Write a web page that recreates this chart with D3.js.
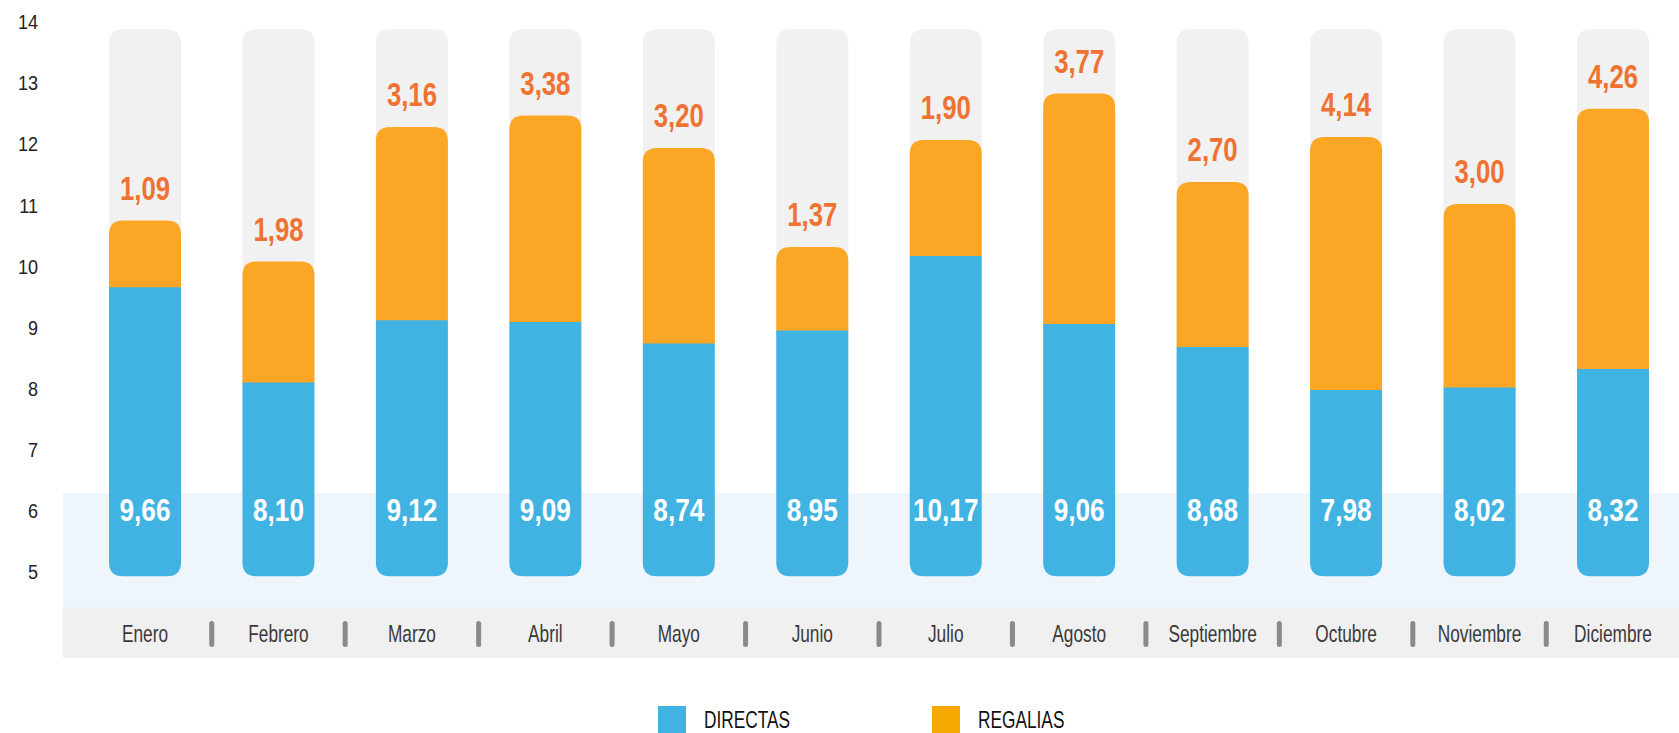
<!DOCTYPE html>
<html>
<head>
<meta charset="utf-8">
<script src="https://cdn.jsdelivr.net/npm/d3@7"></script>
<style>
  body { margin: 0; background: #fff; }
  svg { display: block; }
  text { font-family: "Liberation Sans", Arial, sans-serif; }
</style>
</head>
<body>
<svg id="chart"></svg>
<script>
const months = ['Enero', 'Febrero', 'Marzo', 'Abril', 'Mayo', 'Junio', 'Julio', 'Agosto', 'Septiembre', 'Octubre', 'Noviembre', 'Diciembre'];
const directas = [9.66, 8.10, 9.12, 9.09, 8.74, 8.95, 10.17, 9.06, 8.68, 7.98, 8.02, 8.32];
const regalias = [1.09, 1.98, 3.16, 3.38, 3.20, 1.37, 1.90, 3.77, 2.70, 4.14, 3.00, 4.26];
const yTicks = [5, 6, 7, 8, 9, 10, 11, 12, 13, 14];
const seriesNames = ['DIRECTAS', 'REGALIAS'];

const width = 1679, height = 733;
const blue = '#41b3e3', orange = '#fca626', labelOrange = '#f07232';
const barW = 72, r = 14;
const base = 4.93, trackTop = 13.88;

const data = months.map((m, i) => ({ month: m, d: directas[i], r: regalias[i] }));

const svg = d3.select('#chart')
  .attr('width', width)
  .attr('height', height);

const x = d3.scalePoint().domain(months).range([145, 1613]);
const y = d3.scaleLinear().domain([5, 14]).range([572, 22]);

// condensed look: squeeze text horizontally
const narrow = (sel, sx, fx, fy) => sel
  .attr('transform', (d, i) => `translate(${fx(d, i)},${fy(d, i)}) scale(${sx},1)`);

// background bands
svg.append('rect').attr('x', 63).attr('y', 493).attr('width', width - 63).attr('height', 114).attr('fill', '#eef6fc');
svg.append('rect').attr('x', 63).attr('y', 607).attr('width', width - 63).attr('height', 51).attr('fill', '#f0f0f0');

// y axis labels only
svg.append('g')
  .attr('transform', 'translate(38,0)')
  .call(d3.axisLeft(y).tickValues(yTicks).tickSize(0).tickPadding(0).tickFormat(d3.format('d')))
  .call(g => g.select('.domain').remove())
  .call(g => g.selectAll('.tick text')
    .attr('fill', '#222')
    .attr('transform', 'scale(0.86,1)')
    .style('font-size', '21px')
    .style('font-family', '"Liberation Sans", Arial, sans-serif'));

// rounded-top / rounded-bottom path helpers
const topRounded = (x0, y0, w, h) =>
  `M${x0},${y0 + h}V${y0 + r}Q${x0},${y0} ${x0 + r},${y0}H${x0 + w - r}Q${x0 + w},${y0} ${x0 + w},${y0 + r}V${y0 + h}Z`;
const bottomRounded = (x0, y0, w, h) =>
  `M${x0},${y0}H${x0 + w}V${y0 + h - r}Q${x0 + w},${y0 + h} ${x0 + w - r},${y0 + h}H${x0 + r}Q${x0},${y0 + h} ${x0},${y0 + h - r}Z`;

const bars = svg.append('g').selectAll('g').data(data).join('g');

// gray track
bars.append('path')
  .attr('fill', '#f1f1f1')
  .attr('d', d => topRounded(x(d.month) - barW / 2, y(trackTop), barW, y(base) - y(trackTop) - r));

// regalias segment
bars.append('path')
  .attr('fill', orange)
  .attr('d', d => topRounded(x(d.month) - barW / 2, y(d.d + d.r), barW, y(d.d) - y(d.d + d.r) + 1));

// directas segment
bars.append('path')
  .attr('fill', blue)
  .attr('d', d => bottomRounded(x(d.month) - barW / 2, y(d.d), barW, y(base) - y(d.d)));

const fmt = v => d3.format('.2f')(v).replace('.', ',');

bars.append('text')
  .call(narrow, 0.82, d => x(d.month), () => 521)
  .attr('text-anchor', 'middle')
  .attr('fill', '#fff')
  .style('font-size', '32px')
  .style('font-weight', 'bold')
  .text(d => fmt(d.d));

bars.append('text')
  .call(narrow, 0.78, d => x(d.month), d => y(d.d + d.r) - 21)
  .attr('text-anchor', 'middle')
  .attr('fill', labelOrange)
  .style('font-size', '33px')
  .style('font-weight', 'bold')
  .text(d => fmt(d.r));

// month labels
svg.append('g').selectAll('text').data(months).join('text')
  .call(narrow, 0.72, d => x(d), () => 642)
  .attr('text-anchor', 'middle')
  .attr('fill', '#3a3a3a')
  .style('font-size', '24px')
  .text(d => d);

// separators
const step = x.step();
svg.append('g').selectAll('rect').data(months.slice(0, -1)).join('rect')
  .attr('x', d => x(d) + step / 2 - 2.5)
  .attr('y', 621)
  .attr('width', 5)
  .attr('height', 26)
  .attr('rx', 2.5)
  .attr('fill', '#8a8a8a');

// legend
const legend = svg.append('g').selectAll('g').data(seriesNames).join('g')
  .attr('transform', (d, i) => `translate(${658 + i * 274},706)`);
legend.append('rect')
  .attr('width', 28)
  .attr('height', 28)
  .attr('fill', (d, i) => i === 0 ? blue : '#f5a800');
legend.append('text')
  .call(narrow, 0.72, () => 46, () => 22)
  .attr('fill', '#111')
  .style('font-size', '24px')
  .text(d => d);
</script>
</body>
</html>
